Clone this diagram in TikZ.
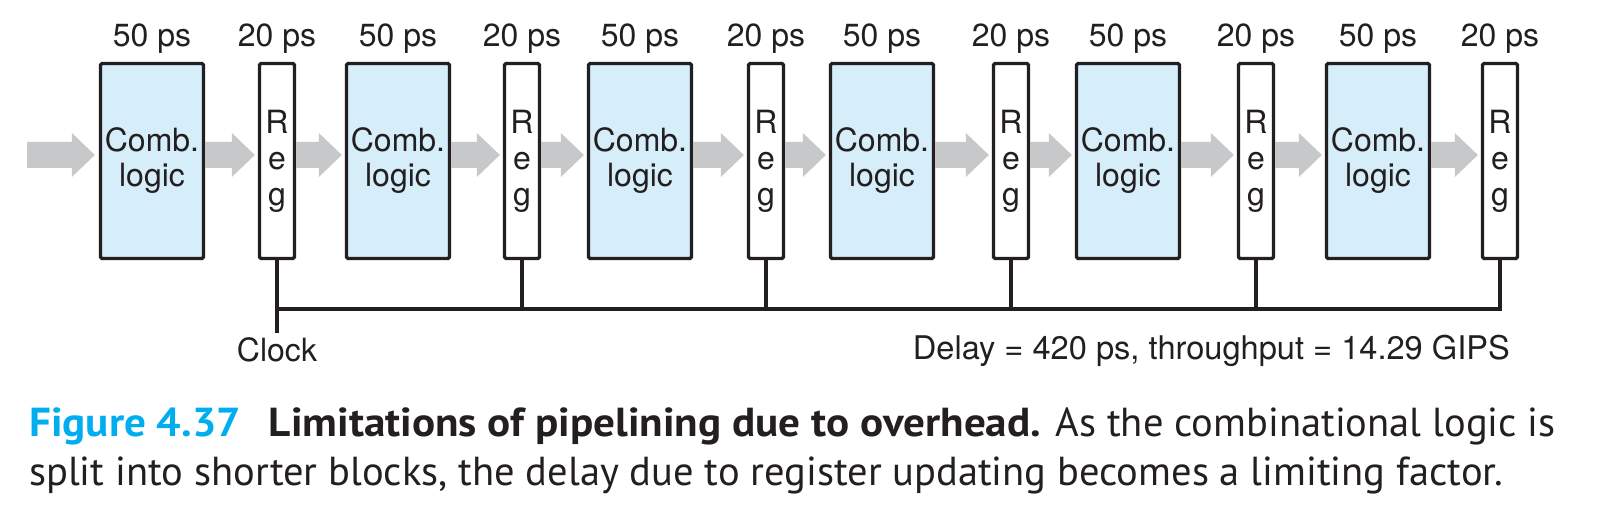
\documentclass[tikz,border=0pt]{standalone}
\usepackage{fontspec}
\usetikzlibrary{positioning}
\newfontfamily\helv{TeX Gyre Heros}
\newfontfamily\capfont{PT Sans}[BoldFeatures={FakeStretch=1.065}]
\definecolor{combblue}{RGB}{214,237,250}
\definecolor{flowgray}{RGB}{199,200,201}
\definecolor{linegray}{RGB}{35,31,32}
\definecolor{figcyan}{RGB}{0,174,239}

\tikzset{
	comb/.style={draw=linegray, line width=3.3pt, rounded corners=1.5pt, fill=combblue,
		minimum width=103pt, minimum height=195pt, inner sep=0pt, align=center,
		text=linegray, font=\helv\fontsize{32}{35}\selectfont},
	reg/.style={comb, fill=white, minimum width=35pt, font=\helv\fontsize{32}{36}\selectfont},
	ps/.style={inner sep=0pt, text=linegray, font=\helv\fontsize{32}{36}\selectfont},
	wire/.style={draw=linegray, line width=3.3pt},
	flow/.style={fill=flowgray, to path={
		([yshift=13pt]\tikztostart) -- ([shift={(-23pt,13pt)}]\tikztotarget)
		-- ([shift={(-23pt,22pt)}]\tikztotarget) -- (\tikztotarget)
		-- ([shift={(-23pt,-22pt)}]\tikztotarget) -- ([shift={(-23pt,-13pt)}]\tikztotarget)
		-- ([yshift=-13pt]\tikztostart) -- cycle}},
	caption/.style={inner sep=0pt, anchor=base west, text=linegray, font=\capfont\fontsize{40.5}{49}\selectfont}
}

\begin{document}
\begin{tikzpicture}[x=1pt,y=-1pt]
	\path[use as bounding box] (0,0) rectangle (1601,510);
	
	%Shape: Comb. logic and Reg
	\node[comb] (comb1) at (152,161) {Comb.\\logic};
	\node[reg]  (reg1)  at (277,161) {R\\e\\g};
	\node[comb] (comb2) at (398,161) {Comb.\\logic};
	\node[reg]  (reg2)  at (522,161) {R\\e\\g};
	\node[comb] (comb3) at (640,161) {Comb.\\logic};
	\node[reg]  (reg3)  at (766,161) {R\\e\\g};
	\node[comb] (comb4) at (882,161) {Comb.\\logic};
	\node[reg]  (reg4)  at (1011,161) {R\\e\\g};
	\node[comb] (comb5) at (1128,161) {Comb.\\logic};
	\node[reg]  (reg5)  at (1256,161) {R\\e\\g};
	\node[comb] (comb6) at (1378,161) {Comb.\\logic};
	\node[reg]  (reg6)  at (1500,161) {R\\e\\g};
	
	% Text Node
	\node[ps, above=8pt of comb1] (t1)  {50 ps};
	\node[ps, above=8pt of reg1]  (t2)  {20 ps};
	\node[ps, above=8pt of comb2] (t3)  {50 ps};
	\node[ps, above=8pt of reg2]  (t4)  {20 ps};
	\node[ps, above=8pt of comb3] (t5)  {50 ps};
	\node[ps, above=8pt of reg3]  (t6)  {20 ps};
	\node[ps, above=8pt of comb4] (t7)  {50 ps};
	\node[ps, above=8pt of reg4]  (t8)  {20 ps};
	\node[ps, above=8pt of comb5] (t9)  {50 ps};
	\node[ps, above=8pt of reg5]  (t10) {20 ps};
	\node[ps, above=8pt of comb6] (t11) {50 ps};
	\node[ps, above=8pt of reg6]  (t12) {20 ps};
	
	%Straight Lines: gray flow arrows
	\coordinate (in) at (27,155);
	\path[flow] (in) to ([shift={(-4pt,6pt)}]comb1.west);
	\path[flow] ([yshift=6pt]comb1.east) to ([shift={(-3pt,6pt)}]reg1.west);
	\path[flow] ([yshift=6pt]reg1.east)  to ([shift={(-3pt,6pt)}]comb2.west);
	\path[flow] ([yshift=6pt]comb2.east) to ([shift={(-3pt,6pt)}]reg2.west);
	\path[flow] ([yshift=6pt]reg2.east)  to ([shift={(-3pt,6pt)}]comb3.west);
	\path[flow] ([yshift=6pt]comb3.east) to ([shift={(-3pt,6pt)}]reg3.west);
	\path[flow] ([yshift=6pt]reg3.east)  to ([shift={(-3pt,6pt)}]comb4.west);
	\path[flow] ([yshift=6pt]comb4.east) to ([shift={(-3pt,6pt)}]reg4.west);
	\path[flow] ([yshift=6pt]reg4.east)  to ([shift={(-3pt,6pt)}]comb5.west);
	\path[flow] ([yshift=6pt]comb5.east) to ([shift={(-3pt,6pt)}]reg5.west);
	\path[flow] ([yshift=6pt]reg5.east)  to ([shift={(-3pt,6pt)}]comb6.west);
	\path[flow] ([yshift=6pt]comb6.east) to ([shift={(-3pt,6pt)}]reg6.west);
	
	%Straight Lines: clock
	\coordinate (clk) at ([yshift=-73pt]reg1.south);
	\draw[wire] (reg1.south) -- (clk);
	\draw[wire] ([yshift=-49pt]reg1.south) -| (reg6.south);
	\draw[wire] (reg2.south) -- ([yshift=-49pt]reg2.south);
	\draw[wire] (reg3.south) -- ([yshift=-49pt]reg3.south);
	\draw[wire] (reg4.south) -- ([yshift=-49pt]reg4.south);
	\draw[wire] (reg5.south) -- ([yshift=-49pt]reg5.south);
	
	% Text Node
	\node[ps, below=4pt of clk] (clock) {Clock};
	% Text Node
	\node[ps, anchor=base east, font=\helv\fontsize{32.6}{36}\selectfont] (delay) at (1510,360) {Delay = 420 ps, throughput = 14.29 GIPS};
	
	% Caption
	\node[caption] (cap1) at (29,436) {{\bfseries\color{figcyan}Figure 4.37}\hspace{28pt}{\bfseries Limitations of pipelining due to overhead.} As the combinational logic is};
	\node[caption] (cap2) at (29,485) {split into shorter blocks, the delay due to register updating becomes a limiting factor.};
\end{tikzpicture}
\end{document}
